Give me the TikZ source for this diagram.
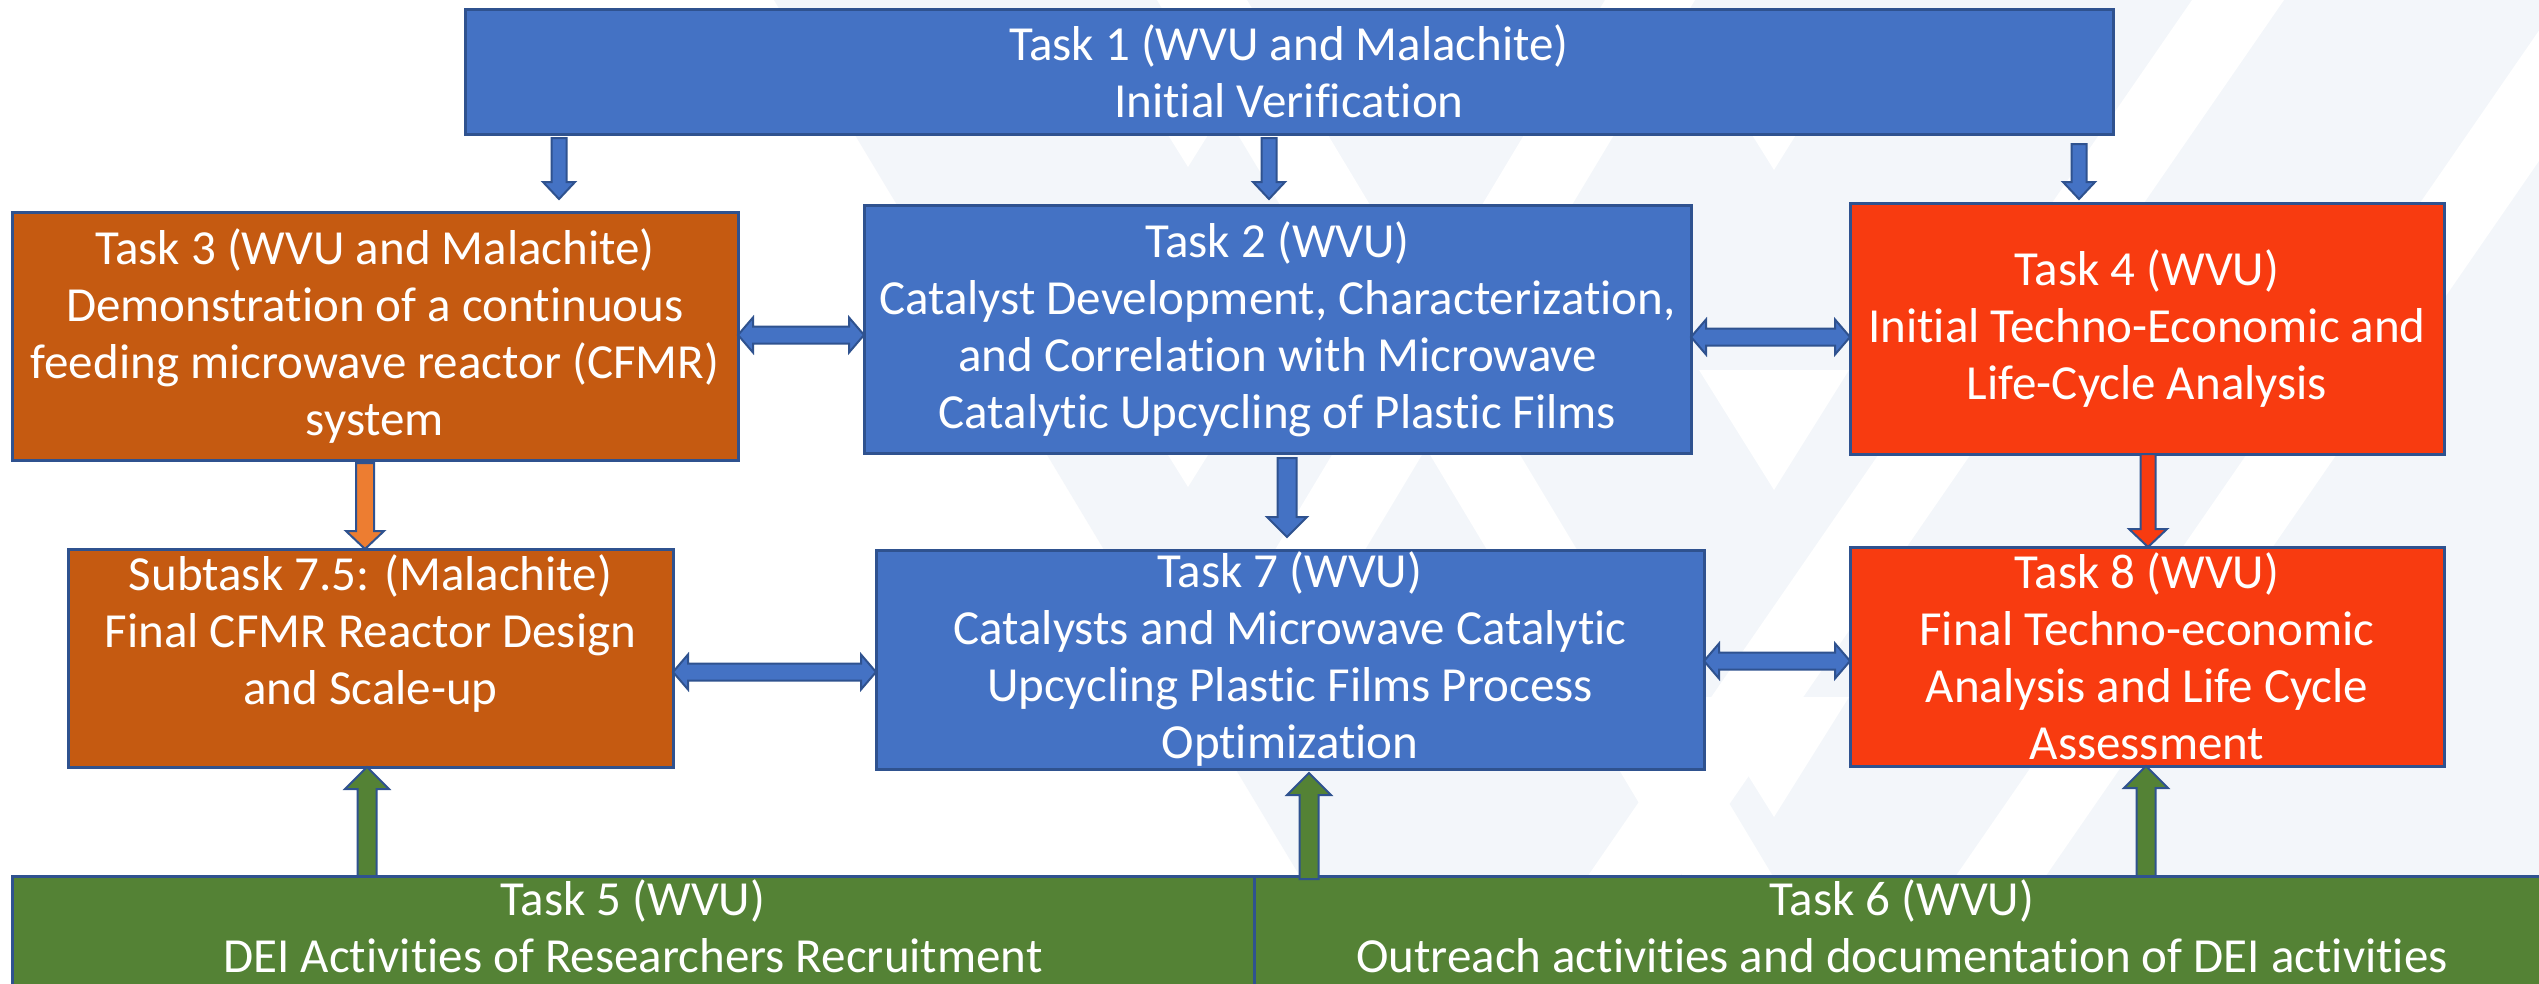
\documentclass[tikz,border=0pt]{standalone}
\usepackage{fontspec}
\setmainfont{Carlito}[Ligatures=NoCommon]
\usetikzlibrary{calc}
\definecolor{tblue}{RGB}{68,114,196}
\definecolor{tborder}{RGB}{47,82,143}
\definecolor{torange}{RGB}{197,90,17}
\definecolor{tred}{RGB}{248,59,16}
\definecolor{tgreen}{RGB}{84,130,53}
\definecolor{aorange}{RGB}{237,125,49}
\definecolor{pale}{RGB}{243,246,250}
\tikzset{
  box/.style={draw=tborder, line width=3pt, text=white, align=center, inner sep=0pt, outer sep=0pt,
    font=\fontsize{49}{57}\selectfont},
  arrline/.style={draw=tborder, line width=2pt, line join=miter},
  paleshape/.style={fill=pale, draw=none},
  whiteshape/.style={fill=white, draw=none},
}
% vertical block arrow pointing down: from, to, fill, half shaft, half head, head length
\newcommand\downblk[6]{%
  \draw[arrline, fill=#3] let \p1=#1, \p2=#2 in
    (\x1-#4pt,\y1) -- (\x1+#4pt,\y1) -- (\x1+#4pt,\y2+#6pt) -- (\x1+#5pt,\y2+#6pt) -- (\x1,\y2)
    -- (\x1-#5pt,\y2+#6pt) -- (\x1-#4pt,\y2+#6pt) -- cycle;}
% vertical block arrow pointing up
\newcommand\upblk[6]{%
  \draw[arrline, fill=#3] let \p1=#1, \p2=#2 in
    (\x1-#4pt,\y1) -- (\x1+#4pt,\y1) -- (\x1+#4pt,\y2-#6pt) -- (\x1+#5pt,\y2-#6pt) -- (\x1,\y2)
    -- (\x1-#5pt,\y2-#6pt) -- (\x1-#4pt,\y2-#6pt) -- cycle;}
% horizontal double block arrow: left, right, half shaft, half head, head length
\newcommand\dblblk[5]{%
  \draw[arrline, fill=tblue] let \p1=#1, \p2=#2 in
    (\x1,\y1) -- (\x1+#5pt,\y1+#4pt) -- (\x1+#5pt,\y1+#3pt) -- (\x2-#5pt,\y1+#3pt) -- (\x2-#5pt,\y1+#4pt)
    -- (\x2,\y1) -- (\x2-#5pt,\y1-#4pt) -- (\x2-#5pt,\y1-#3pt) -- (\x1+#5pt,\y1-#3pt) -- (\x1+#5pt,\y1-#4pt) -- cycle;}
\begin{document}
\begin{tikzpicture}[x=1pt, y=-1pt]
\useasboundingbox (0,0) rectangle (2539,983);
\clip (0,0) rectangle (2539,983);
\fill[white] (0,0) rectangle (2539,983);
% watermark
\fill[paleshape] (774,0) -- (2539,0) -- (2539,983) -- (1364,983) -- cycle;
\fill[whiteshape] (2192,0) -- (2284,0) -- (1606,983) -- (1514,983) -- cycle;
\fill[whiteshape] (1157,0) -- (1247,0) -- (1837,983) -- (1747,983) -- cycle;
\fill[whiteshape] (1605,0) -- (1695,0) -- (1105,983) -- (1015,983) -- cycle;
\fill[whiteshape] (2560,0) -- (2650,0) -- (1972,983) -- (1882,983) -- cycle;
\foreach \ax/\ay in {1188/167, 1188/487, 1774/170, 1774/490, 1774/817}
  \fill[whiteshape] (\ax,\ay) -- (\ax-75,\ay-120) -- (\ax+75,\ay-120) -- cycle;
% boxes
\node[box, fill=tblue, minimum width=1648pt, minimum height=125pt] (t1) at (1289,71.5)
  {Task 1 (WVU and Malachite)\\Initial Verification};
\node[box, fill=torange, minimum width=726pt, minimum height=248pt] (t3) at (375,336)
  {Task 3 (WVU and Malachite)\\Demonstration of a continuous\\feeding microwave reactor (CFMR)\\system};
\node[box, fill=tblue, minimum width=827pt, minimum height=248pt] (t2) at (1277.5,329)
  {Task 2 (WVU)\\Catalyst Development, Characterization,\\and Correlation with Microwave\\Catalytic Upcycling of Plastic Films};
\node[box, fill=tred, minimum width=594pt, minimum height=251pt] (t4) at (2147,328.5)
  {Task 4 (WVU)\\Initial Techno-Economic and\\Life-Cycle Analysis};
\node[box, fill=torange, minimum width=605pt, minimum height=218pt] (s75) at (370.5,658)
  {Subtask 7.5: (Malachite)\\Final CFMR Reactor Design\\and Scale-up\\\mbox{}};
\node[box, fill=tblue, minimum width=828pt, minimum height=219pt] (t7) at (1290,659.5)
  {Task 7 (WVU)\\Catalysts and Microwave Catalytic\\Upcycling Plastic Films Process\\Optimization};
\node[box, fill=tred, minimum width=594pt, minimum height=219pt] (t8) at (2147,656.5)
  {Task 8 (WVU)\\Final Techno-economic\\Analysis and Life Cycle\\Assessment};
\node[box, fill=tgreen, minimum width=1242pt, minimum height=112pt] (t5) at (633,932)
  {Task 5 (WVU)\\DEI Activities of Researchers Recruitment\\[-45pt]\mbox{}};
\node[box, fill=tgreen, minimum width=1296pt, minimum height=112pt] (t6) at (1902,932)
  {Task 6 (WVU)\\Outreach activities and documentation of DEI activities\\[-45pt]\mbox{}};
% arrow positions
\coordinate (va) at (559,0);
\coordinate (vb) at (1269,0);
\coordinate (vc) at (2079,0);
\coordinate (vd) at (365,0);
\coordinate (ve) at (1287,0);
\coordinate (vf) at (2148,0);
\coordinate (vg) at (367,0);
\coordinate (vh) at (1309,0);
\coordinate (vi) at (2146,0);
\coordinate (ha) at (0,335);
\coordinate (hb) at (0,337);
\coordinate (hc) at (0,672);
\coordinate (hd) at (0,661);
% down arrows from task 1
\downblk{($(t1.south -| va)+(0,4)$)}{($(t3.north -| va)+(0,-13)$)}{tblue}{7.5}{16}{17}
\downblk{($(t1.south -| vb)+(0,4)$)}{($(t2.north -| vb)+(0,-6)$)}{tblue}{7.5}{16}{17}
\downblk{($(t1.south -| vc)+(0,10)$)}{($(t4.north -| vc)+(0,-4)$)}{tblue}{7.5}{16}{17}
% second row down arrows
\downblk{($(t3.south -| vd)+(0,3)$)}{(s75.north -| vd)}{aorange}{9}{19}{18}
\downblk{($(t2.south -| ve)+(0,5)$)}{($(t7.north -| ve)+(0,-13)$)}{tblue}{9.5}{20}{20}
\downblk{(t4.south -| vf)}{(t8.north -| vf)}{tred}{7.5}{19}{18}
% up arrows from the bottom row
\upblk{(t5.north -| vg)}{(s75.south -| vg)}{tgreen}{9.5}{22}{22}
\upblk{($(t6.north -| vh)+(0,3)$)}{($(t7.south -| vh)+(0,4)$)}{tgreen}{9.5}{22}{22}
\upblk{(t6.north -| vi)}{(t8.south -| vi)}{tgreen}{9.5}{22}{22}
% horizontal double arrows
\dblblk{(t3.east |- ha)}{(t2.west |- ha)}{8.5}{17.5}{15}
\dblblk{(t2.east |- hb)}{(t4.west |- hb)}{8.5}{17.5}{15}
\dblblk{(s75.east |- hc)}{(t7.west |- hc)}{8.5}{17.5}{15}
\dblblk{(t7.east |- hd)}{(t8.west |- hd)}{8.5}{17.5}{15}
\end{tikzpicture}
\end{document}
